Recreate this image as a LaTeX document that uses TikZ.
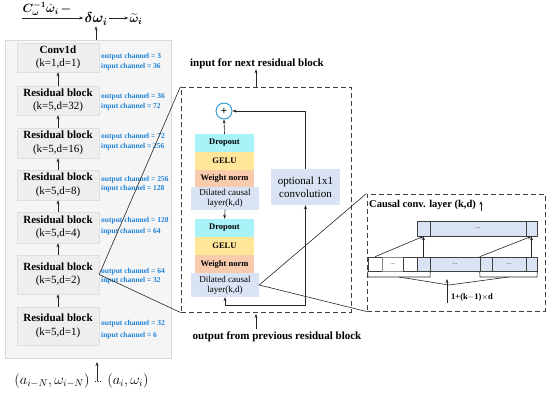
\documentclass[tikz,border=0pt]{standalone}
\usepackage{amsmath,bm}
\usepackage{fontspec}
\setmainfont{Liberation Serif}
\usetikzlibrary{arrows.meta,calc}
\definecolor{chanblue}{RGB}{30,130,215}
\definecolor{plusblue}{RGB}{40,150,215}
\definecolor{dropc}{HTML}{A8F2F8}
\definecolor{geluc}{HTML}{FFE699}
\definecolor{wnc}{HTML}{F8CBAD}
\definecolor{dcc}{HTML}{DAE3F3}
\definecolor{dashc}{HTML}{404040}
\begin{document}
\begin{tikzpicture}[x=1pt,y=-1pt,
  arr/.style={-{Stealth[length=4pt,width=3pt]}, line width=0.6pt, black!85},
  ln/.style={line width=0.6pt, black!85},
  panelbox/.style={draw=gray!30, fill=gray!8, inner sep=0},
  lbox/.style={draw=gray!25, fill=gray!13, minimum width=82pt, inner sep=0, align=center, font=\fontsize{11}{13.5}\selectfont},
  chan/.style={text=chanblue, font=\bfseries\fontsize{7.5}{8}\selectfont, anchor=west, inner sep=0},
  dbox/.style={draw=dashc, line width=1pt, dash pattern=on 5pt off 3pt, inner sep=0},
  layer/.style={minimum width=59pt, minimum height=18pt, inner sep=0, align=center, font=\bfseries\fontsize{8.5}{9}\selectfont},
  dclayer/.style={fill=dcc, minimum width=68pt, inner sep=0, align=center, font=\fontsize{9}{10}\selectfont},
  cell/.style={draw=black!75, line width=0.6pt, inner sep=0, font=\fontsize{6}{6}\selectfont},
  lbl/.style={inner sep=0, font=\bfseries\fontsize{11}{13}\selectfont}
]
\useasboundingbox (0,0) rectangle (550,392);

% ---------- left panel ----------
\node[panelbox, minimum width=166pt, minimum height=318pt] (panel) at (88,199) {};
\node[lbox, minimum height=29pt] (conv) at (58,57.5) {\textbf{Conv1d}\\(k=1,d=1)};
\node[lbox, minimum height=29pt] (rb32) at (58,100.5) {\textbf{Residual block}\\(k=5,d=32)};
\node[lbox, minimum height=30pt] (rb16) at (58,143) {\textbf{Residual block}\\(k=5,d=16)};
\node[lbox, minimum height=30pt] (rb8) at (58,185) {\textbf{Residual block}\\(k=5,d=8)};
\node[lbox, minimum height=31pt] (rb4) at (58,227.5) {\textbf{Residual block}\\(k=5,d=4)};
\node[lbox, minimum height=39pt] (rb2) at (58,274.5) {\textbf{Residual block}\\(k=5,d=2)};
\node[lbox, minimum height=38pt] (rb1) at (58,326) {\textbf{Residual block}\\(k=5,d=1)};

\draw[arr] (rb1.north) -- (rb2.south);
\draw[arr] (rb2.north) -- (rb4.south);
\draw[arr] (rb4.north) -- (rb8.south);
\draw[arr] (rb8.north) -- (rb16.south);
\draw[arr] (rb16.north) -- (rb32.south);
\draw[arr] (rb32.north) -- (conv.south);

\node[chan] (c1o) at (101,57) {output channel = 3};
\node[chan] (c1i) at (101,66.5) {input channel = 36};
\node[chan] (c2o) at (101,97) {output channel = 36};
\node[chan] (c2i) at (101,107) {input channel = 72};
\node[chan] (c3o) at (101,137) {output channel = 72};
\node[chan] (c3i) at (101,147) {input channel = 256};
\node[chan] (c4o) at (101,180) {output channel = 256};
\node[chan] (c4i) at (101,189) {input channel = 128};
\node[chan] (c5o) at (101,221) {output channel = 128};
\node[chan] (c5i) at (101,232) {input channel = 64};
\node[chan] (c6o) at (101,272) {output channel = 64};
\node[chan] (c6i) at (101,281) {input channel = 32};
\node[chan] (c7o) at (101,324) {output channel = 32};
\node[chan] (c7i) at (101,336) {input channel = 6};

% ---------- top formula ----------
\node[inner sep=0, font=\fontsize{12}{14}\selectfont] (cw) at (47,9) {$\bm{C_\omega^{-1}\hat{\omega}_i\,-}$};
\coordinate (tl) at (22,18);
\node[inner sep=1pt, font=\fontsize{14}{16}\selectfont] (dw) at (96,19) {$\bm{\delta\omega_i}$};
\node[inner sep=1pt, font=\fontsize{13}{15}\selectfont] (wt) at (136,19) {$\bm{\widetilde{\omega}_i}$};
\draw[arr] (tl) -- (tl -| dw.west);
\draw[arr] (dw.east |- tl) -- (wt.west |- tl);
\draw[arr] (dw.south |- panel.north) -- (dw.south);

% ---------- bottom inputs ----------
\node[inner sep=0, font=\fontsize{14}{16}\selectfont] (ain) at (52,381) {$(a_{i-N},\omega_{i-N})$};
\node[inner sep=0, font=\fontsize{10}{12}\selectfont] (dots) at (98,382) {...};
\node[inner sep=0, font=\fontsize{14}{16}\selectfont] (aend) at (128,381) {$(a_i,\omega_i)$};
\coordinate (intip) at (97,362);
\draw[arr] (dots.north -| intip) -- (intip);

% ---------- middle residual block detail ----------
\node[dbox, minimum width=170pt, minimum height=225pt] (mid) at (266,199.5) {};
\node[lbl] (nextlbl) at (257,64) {input for next residual block};
\coordinate (outb) at (256,87);
\draw[arr] (outb) -- (nextlbl.south -| outb);
\node[lbl] (prevlbl) at (277,337) {output from previous residual block};
\coordinate (inb) at (256,329);
\draw[arr] (inb) -- ++(0,-15);

\node[circle, draw=plusblue, line width=0.9pt, fill=white, minimum size=16pt, inner sep=0, font=\bfseries\fontsize{11}{11}\selectfont] (plus) at (224,111) {+};

\node[layer, fill=dropc] (d1) at (224.5,143) {Dropout};
\node[layer, fill=geluc] (g1) at (224.5,161) {GELU};
\node[layer, fill=wnc, minimum height=17pt] (w1) at (224.5,178.5) {Weight norm};
\node[dclayer, minimum height=23pt] (dc1) at (225,198.5) {Dilated causal\\layer(k,d)};

\node[layer, fill=dropc] (d2) at (224.5,228) {Dropout};
\node[layer, fill=geluc] (g2) at (224.5,246) {GELU};
\node[layer, fill=wnc] (w2) at (224.5,264) {Weight norm};
\node[dclayer, minimum height=24pt] (dc2) at (225,285) {Dilated causal\\layer(k,d)};

\node[fill=dcc, minimum width=69pt, minimum height=36pt, inner sep=0, align=center, font=\fontsize{11}{12.5}\selectfont] (opt) at (305.5,187) {optional 1x1\\convolution};

\draw[arr] (d1.north) -- (plus.south);
\draw[arr] (dc1.south) -- (d1.north |- d2.north);
\draw[arr] (opt.north) |- (plus.east);
\coordinate (feed) at (305.5,305);
\draw[arr] (feed) -| (dc2.south);
\draw[arr] (feed) -- (opt.south);

% zoom lines from residual block (d=2)
\draw[ln] (mid.north west) -- (rb2.east) -- (mid.south west);

% ---------- right causal conv detail ----------
\node[dbox, minimum width=178pt, minimum height=117pt] (rbox) at (456,252.5) {};
\draw[ln] (rbox.north west) -- (dc2.east) -- (rbox.south west);

\node[inner sep=0, anchor=west, font=\bfseries\fontsize{10.5}{12}\selectfont] (cclbl) at (369,205) {Causal conv. layer (k,d)};
\coordinate (ccarr) at (481,211);
\draw[arr] (ccarr) -- ++(0,-10);

\node[cell, fill=dcc, minimum width=13pt, minimum height=15pt] (t1) at (423.5,228.5) {};
\node[cell, fill=dcc, minimum width=96pt, minimum height=15pt] (tm) at (478,228.5) {...};
\node[cell, fill=dcc, minimum width=11pt, minimum height=15pt] (t2) at (531.5,228.5) {};

\node[cell, fill=white, minimum width=14pt, minimum height=14pt] (b1) at (375,264) {};
\node[cell, draw=black!45, fill=white, minimum width=21pt, minimum height=14pt] (b2) at (392.5,264) {...};
\node[cell, fill=white, minimum width=14pt, minimum height=14pt] (b3) at (410,264) {};
\node[cell, fill=dcc, minimum width=13pt, minimum height=14pt] (b4) at (423.5,264) {};
\node[cell, fill=dcc, minimum width=50pt, minimum height=14pt] (b5) at (455,264) {...};
\node[cell, fill=dcc, minimum width=12pt, minimum height=14pt] (b6) at (486,264) {};
\node[cell, fill=dcc, minimum width=34pt, minimum height=14pt] (b7) at (509,264) {...};
\node[cell, fill=dcc, minimum width=11pt, minimum height=14pt] (b8) at (531.5,264) {};

\draw[arr] (b1.north) -- (t1.south);
\draw[arr] (b4.north) -- (t1.south);
\draw[arr] (b6.north west) -- (t2.south);
\draw[arr] (b8.north) -- (t2.south);

\coordinate (brL1) at (368,277);
\coordinate (brL2) at (430,277);
\coordinate (brR1) at (480,277);
\coordinate (brR2) at (537,277);
\coordinate (apex) at (449,285);
\draw[ln] (b1.south west) -- (brL1) -- (brL2) -- (b4.south east);
\draw[ln] (b6.south west) -- (brR1) -- (brR2) -- (b8.south east);
\draw[ln] ($(brL1)!0.5!(brL2)$) -- (apex) -- ($(brR1)!0.5!(brR2)$);
\coordinate (karr) at (447,303);
\draw[arr] (karr) -- ++(0,-24);
\node[inner sep=0, anchor=west, font=\bfseries\fontsize{8.5}{10}\selectfont] (klbl) at (451,297) {1+(k$-$1)$\times$d};
\end{tikzpicture}
\end{document}
